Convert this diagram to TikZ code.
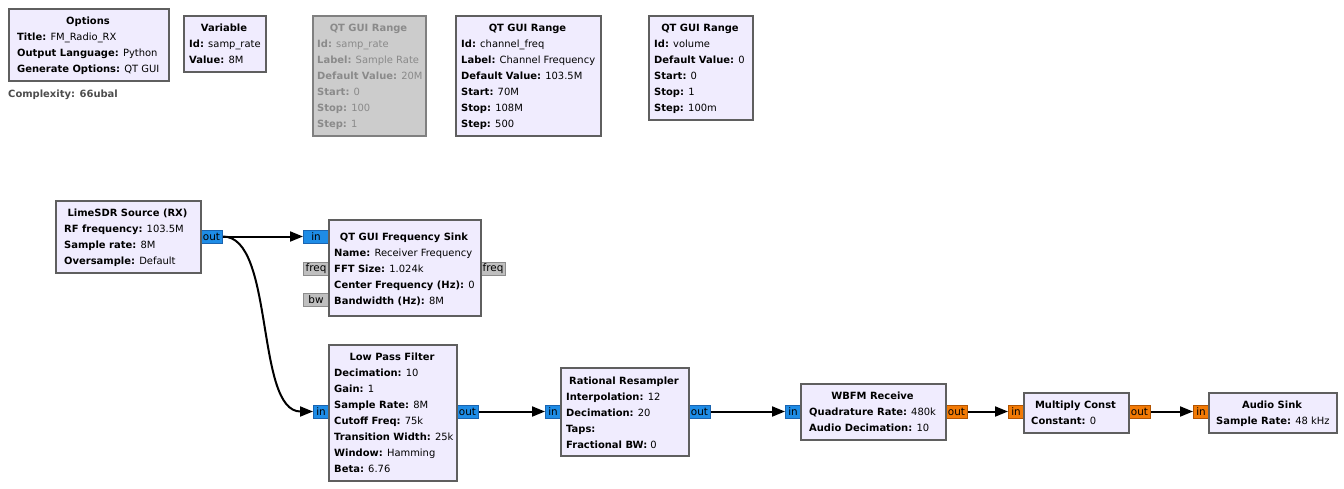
\documentclass[tikz,border=0pt]{standalone}
\usepackage{fontspec}
\setmainfont{DejaVu Sans}
\usetikzlibrary{arrows.meta}
\definecolor{blkfill}{HTML}{F0ECFE}
\definecolor{blkdraw}{HTML}{5F5F5F}
\definecolor{disfill}{HTML}{CCCCCC}
\definecolor{disdraw}{HTML}{808080}
\definecolor{distext}{HTML}{8A8A8A}
\definecolor{cplxfill}{HTML}{1E8CE6}
\definecolor{cplxdraw}{HTML}{1A64B0}
\definecolor{fltfill}{HTML}{F27A05}
\definecolor{fltdraw}{HTML}{B35400}
\definecolor{msgfill}{HTML}{BFBFBF}
\definecolor{msgdraw}{HTML}{8C8C8C}
\definecolor{cplxtext}{HTML}{4D4D4D}
\begin{document}
\begin{tikzpicture}[x=1pt,y=-1pt,
  every node/.style={font=\fontsize{9.95}{16}\selectfont},
  blk/.style={draw=blkdraw,fill=blkfill,line width=2pt,anchor=north west,inner sep=0pt},
  disblk/.style={draw=disdraw,fill=disfill,line width=2pt,anchor=north west,inner sep=0pt},
  lbl/.style={anchor=base west,inner sep=0pt},
  ttl/.style={anchor=base,inner sep=0pt,font=\fontsize{9.95}{16}\selectfont\bfseries},
  port/.style={line width=1pt,minimum height=13pt,inner sep=0pt,anchor=west,font=\fontsize{10.4}{16}\selectfont},
  cport/.style={port,draw=cplxdraw,fill=cplxfill},
  fport/.style={port,draw=fltdraw,fill=fltfill},
  mport/.style={port,draw=msgdraw,fill=msgfill},
  conn/.style={line width=2pt,-{Triangle[length=13pt,width=10pt]}}
]
\useasboundingbox[fill=white] (0,0) rectangle (1344,488);

% ---------- Options ----------
\node[blk,minimum width=160pt,minimum height=72pt] (opt) at (8,8) {};
\node[ttl] (optt) at (88,24) {Options};
\node[lbl] (opt1) at (17,40) {\textbf{Title:} FM\_Radio\_RX};
\node[lbl] (opt2) at (17,56) {\textbf{Output Language:} Python};
\node[lbl] (opt3) at (17,72) {\textbf{Generate Options:} QT GUI};
\node[lbl,text=cplxtext,font=\fontsize{9.95}{16}\selectfont\bfseries] (cplx) at (8,97) {Complexity: 66ubal};

% ---------- Variable ----------
\node[blk,minimum width=82pt,minimum height=56pt] (var) at (183,15) {};
\node[ttl] (vart) at (224,31) {Variable};
\node[lbl] (var1) at (189,47) {\textbf{Id:} samp\_rate};
\node[lbl] (var2) at (189,63) {\textbf{Value:} 8M};

% ---------- QT GUI Range (disabled) ----------
\node[disblk,minimum width=113pt,minimum height=120pt] (rg1) at (312,15) {};
\begin{scope}[every node/.append style={text=distext}]
\node[ttl,text=distext] (rg1t) at (368.5,31) {QT GUI Range};
\node[lbl] (rg11) at (317,47) {\textbf{Id:} samp\_rate};
\node[lbl] (rg12) at (317,63) {\textbf{Label:} Sample Rate};
\node[lbl] (rg13) at (317,79) {\textbf{Default Value:} 20M};
\node[lbl] (rg14) at (317,95) {\textbf{Start:} 0};
\node[lbl] (rg15) at (317,111) {\textbf{Stop:} 100};
\node[lbl] (rg16) at (317,127) {\textbf{Step:} 1};
\end{scope}

% ---------- QT GUI Range channel_freq ----------
\node[blk,minimum width=145pt,minimum height=120pt] (rg2) at (455,15) {};
\node[ttl] (rg2t) at (527.5,31) {QT GUI Range};
\node[lbl] (rg21) at (461,47) {\textbf{Id:} channel\_freq};
\node[lbl] (rg22) at (461,63) {\textbf{Label:} Channel Frequency};
\node[lbl] (rg23) at (461,79) {\textbf{Default Value:} 103.5M};
\node[lbl] (rg24) at (461,95) {\textbf{Start:} 70M};
\node[lbl] (rg25) at (461,111) {\textbf{Stop:} 108M};
\node[lbl] (rg26) at (461,127) {\textbf{Step:} 500};

% ---------- QT GUI Range volume ----------
\node[blk,minimum width=104pt,minimum height=104pt] (rg3) at (648,15) {};
\node[ttl] (rg3t) at (700,31) {QT GUI Range};
\node[lbl] (rg31) at (654,47) {\textbf{Id:} volume};
\node[lbl] (rg32) at (654,63) {\textbf{Default Value:} 0};
\node[lbl] (rg33) at (654,79) {\textbf{Start:} 0};
\node[lbl] (rg34) at (654,95) {\textbf{Stop:} 1};
\node[lbl] (rg35) at (654,111) {\textbf{Step:} 100m};

% ---------- ports ----------
\node[cport,minimum width=22pt] (limeout) at (200,236.5) {out};
\node[cport,minimum width=25pt] (fsin) at (303,236.5) {in};
\node[mport,minimum width=25pt] (fsfreql) at (303,268.5) {freq};
\node[mport,minimum width=25pt] (fsbw) at (303,300) {bw};
\node[mport,minimum width=25pt] (fsfreqr) at (480,268.5) {freq};
\node[cport,minimum width=15pt] (lpfin) at (313,411.5) {in};
\node[cport,minimum width=22pt] (lpfout) at (456,411.5) {out};
\node[cport,minimum width=15pt] (rrin) at (545,411.5) {in};
\node[cport,minimum width=22pt] (rrout) at (688,411.5) {out};
\node[cport,minimum width=15pt] (wbin) at (785,411.5) {in};
\node[fport,minimum width=22pt] (wbout) at (945,411.5) {out};
\node[fport,minimum width=15pt] (mcin) at (1008,411.5) {in};
\node[fport,minimum width=22pt] (mcout) at (1128,411.5) {out};
\node[fport,minimum width=15pt] (asin) at (1193,411.5) {in};

% ---------- LimeSDR Source ----------
\node[blk,minimum width=145pt,minimum height=72pt] (lime) at (55,200) {};
\node[ttl] (limet) at (127.5,216) {LimeSDR Source (RX)};
\node[lbl] (lime1) at (64,232) {\textbf{RF frequency:} 103.5M};
\node[lbl] (lime2) at (64,248) {\textbf{Sample rate:} 8M};
\node[lbl] (lime3) at (64,264) {\textbf{Oversample:} Default};

% ---------- QT GUI Frequency Sink ----------
\node[blk,minimum width=152pt,minimum height=96pt] (fs) at (328,219) {};
\node[ttl] (fst) at (404,240) {QT GUI Frequency Sink};
\node[lbl] (fs1) at (334,256) {\textbf{Name:} Receiver Frequency};
\node[lbl] (fs2) at (334,272) {\textbf{FFT Size:} 1.024k};
\node[lbl] (fs3) at (334,288) {\textbf{Center Frequency (Hz):} 0};
\node[lbl] (fs4) at (334,304) {\textbf{Bandwidth (Hz):} 8M};

% ---------- Low Pass Filter ----------
\node[blk,minimum width=128pt,minimum height=136pt] (lpf) at (328,344) {};
\node[ttl] (lpft) at (392,360) {Low Pass Filter};
\node[lbl] (lpf1) at (334,376) {\textbf{Decimation:} 10};
\node[lbl] (lpf2) at (334,392) {\textbf{Gain:} 1};
\node[lbl] (lpf3) at (334,408) {\textbf{Sample Rate:} 8M};
\node[lbl] (lpf4) at (334,424) {\textbf{Cutoff Freq:} 75k};
\node[lbl] (lpf5) at (334,440) {\textbf{Transition Width:} 25k};
\node[lbl] (lpf6) at (334,456) {\textbf{Window:} Hamming};
\node[lbl] (lpf7) at (334,472) {\textbf{Beta:} 6.76};

% ---------- Rational Resampler ----------
\node[blk,minimum width=128pt,minimum height=88pt] (rr) at (560,367) {};
\node[ttl] (rrt) at (624,384) {Rational Resampler};
\node[lbl] (rr1) at (566,400) {\textbf{Interpolation:} 12};
\node[lbl] (rr2) at (566,416) {\textbf{Decimation:} 20};
\node[lbl] (rr3) at (566,432) {\textbf{Taps:}};
\node[lbl] (rr4) at (566,448) {\textbf{Fractional BW:} 0};

% ---------- WBFM Receive ----------
\node[blk,minimum width=145pt,minimum height=56pt] (wb) at (800,383) {};
\node[ttl] (wbt) at (872.5,399) {WBFM Receive};
\node[lbl] (wb1) at (809,415) {\textbf{Quadrature Rate:} 480k};
\node[lbl] (wb2) at (809,431) {\textbf{Audio Decimation:} 10};

% ---------- Multiply Const ----------
\node[blk,minimum width=105pt,minimum height=40pt] (mc) at (1023,392) {};
\node[ttl] (mct) at (1075.5,408) {Multiply Const};
\node[lbl] (mc1) at (1031,424) {\textbf{Constant:} 0};

% ---------- Audio Sink ----------
\node[blk,minimum width=128pt,minimum height=40pt] (as) at (1208,392) {};
\node[ttl] (ast) at (1272,408) {Audio Sink};
\node[lbl] (as1) at (1216,424) {\textbf{Sample Rate:} 48 kHz};

% ---------- connectors ----------
\draw[conn] (limeout.east) -- (fsin.west);
\draw[conn] (limeout.east) .. controls (275,236.5) and (255,411.5) .. (lpfin.west);
\draw[conn] (lpfout.east) -- (rrin.west);
\draw[conn] (rrout.east) -- (wbin.west);
\draw[conn] (wbout.east) -- (mcin.west);
\draw[conn] (mcout.east) -- (asin.west);
\end{tikzpicture}
\end{document}
